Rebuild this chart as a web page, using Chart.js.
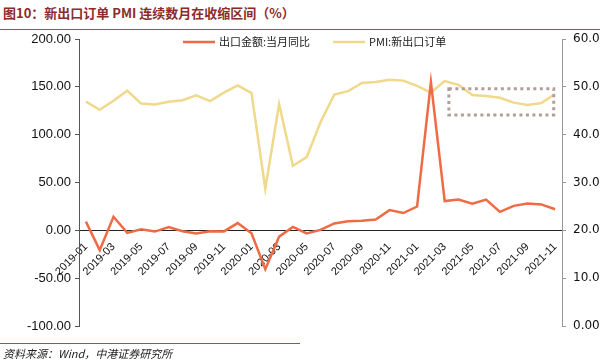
<!DOCTYPE html>
<html>
<head>
<meta charset="utf-8">
<script src="https://cdn.jsdelivr.net/npm/chart.js@4.4.1/dist/chart.umd.min.js"></script>
<style>
  body { margin: 0; background: #fff; }
  #wrap { position: relative; width: 600px; height: 363px; overflow: hidden; }
  #title { position: absolute; left: 3px; top: 3px; font: bold 13px "Noto Sans CJK SC", sans-serif; color: #8b2b2b; }
  #titleLine { position: absolute; left: 0; top: 29px; width: 600px; height: 0; border-top: 1px solid #a4503c; }
  #srcLine { position: absolute; left: 0; top: 343px; width: 300px; height: 0; border-top: 1px solid #a4503c; }
  #source { position: absolute; left: 3px; top: 345px; font: italic 11px "Noto Sans CJK SC", sans-serif; color: #222; }
  canvas { position: absolute; left: 0; top: 0; }
</style>
</head>
<body>
<div id="wrap">
  <div id="title">图10：新出口订单 PMI 连续数月在收缩区间（%）</div>
  <div id="titleLine"></div>
  <canvas id="myChart" width="600" height="363"></canvas>
  <div id="srcLine"></div>
  <div id="source">资料来源：Wind，中港证券研究所</div>
</div>
<script>
// monthly categories
const months = [
  "2019-01", "2019-02", "2019-03", "2019-04", "2019-05", "2019-06", "2019-07", "2019-08", "2019-09", "2019-10", "2019-11", "2019-12",
  "2020-01", "2020-02", "2020-03", "2020-04", "2020-05", "2020-06", "2020-07", "2020-08", "2020-09", "2020-10", "2020-11", "2020-12",
  "2021-01", "2021-02", "2021-03", "2021-04", "2021-05", "2021-06", "2021-07", "2021-08", "2021-09", "2021-10", "2021-11"
];
// 出口金额:当月同比 (left axis)
const exportYoY = [
  9.1, -20.7, 14.2, -2.7, 1.1, -1.3, 3.3, -1.0, -3.2, -0.9, -1.1, 7.6,
  -3.0, -40.6, -6.6, 3.5, -3.3, 0.5, 7.2, 9.5, 9.9, 11.4, 21.1, 18.1,
  24.9, 154.9, 30.6, 32.3, 27.9, 32.2, 19.3, 25.6, 28.1, 27.1, 22.0
];
// PMI:新出口订单 (right axis)
const pmiExport = [
  46.9, 45.2, 47.1, 49.2, 46.5, 46.3, 46.9, 47.2, 48.2, 47.0, 48.8, 50.3,
  48.7, 28.7, 46.4, 33.5, 35.3, 42.6, 48.4, 49.1, 50.8, 51.0, 51.5, 51.3,
  50.2, 48.8, 51.2, 50.4, 48.3, 48.1, 47.7, 46.7, 46.2, 46.6, 48.5
];
// highlight box, in category index / right-axis value units
const boxIndexRange = [26.3, 33.9];
const boxValueRange = [44.1, 49.6];

const orange = "#ee6b45";
const yellow = "#f0d98b";

// legend drawn inside the plot, plus the dotted box
const overlay = {
  id: "overlay",
  afterDatasetsDraw(chart) {
    const ctx = chart.ctx;
    const x = chart.scales.x, y1 = chart.scales.y1;
    const step = (x.getPixelForValue(1) - x.getPixelForValue(0));
    const x0 = x.getPixelForValue(0) + (boxIndexRange[0]) * step;
    const x1 = x.getPixelForValue(0) + (boxIndexRange[1]) * step;
    const yTop = y1.getPixelForValue(boxValueRange[1]);
    const yBot = y1.getPixelForValue(boxValueRange[0]);
    ctx.save();
    ctx.strokeStyle = "#b39d99";
    ctx.lineWidth = 3;
    ctx.setLineDash([3, 3.5]);
    ctx.strokeRect(x0, yTop, x1 - x0, yBot - yTop);
    ctx.restore();

    // legend
    const items = [
      { x: 183, ds: chart.data.datasets[0] },
      { x: 333, ds: chart.data.datasets[1] }
    ];
    ctx.save();
    ctx.font = '11px "Noto Sans CJK SC", sans-serif';
    ctx.textBaseline = "middle";
    items.forEach(it => {
      ctx.strokeStyle = it.ds.borderColor;
      ctx.lineWidth = 2.5;
      ctx.beginPath();
      ctx.moveTo(it.x, 42);
      ctx.lineTo(it.x + 32, 42);
      ctx.stroke();
      ctx.fillStyle = "#222";
      ctx.fillText(it.ds.label, it.x + 36, 42);
    });
    ctx.restore();
  }
};

const ctx = document.getElementById("myChart");
new Chart(ctx, {
  type: "line",
  data: {
    labels: months,
    datasets: [
      {
        label: "出口金额:当月同比",
        data: exportYoY,
        borderColor: orange,
        backgroundColor: orange,
        borderWidth: 2.5,
        pointRadius: 0,
        tension: 0,
        yAxisID: "y"
      },
      {
        label: "PMI:新出口订单",
        data: pmiExport,
        borderColor: yellow,
        backgroundColor: yellow,
        borderWidth: 2.5,
        pointRadius: 0,
        tension: 0,
        yAxisID: "y1"
      }
    ]
  },
  options: {
    responsive: false,
    animation: false,
    layout: { padding: { top: 39, bottom: 37, left: 0, right: 0 } },
    plugins: {
      legend: { display: false },
      tooltip: { enabled: false }
    },
    scales: {
      x: {
        position: { y: 0 },
        offset: true,
        afterFit: s => { s.height = 39; },
        grid: { display: false },
        border: { color: "#222", width: 1 },
        ticks: {
          autoSkip: false,
          maxRotation: 45,
          minRotation: 45,
          padding: 2,
          color: "#111",
          font: { family: "Liberation Sans", size: 11 },
          callback: function(val, index) {
            return index % 2 === 0 ? this.getLabelForValue(val) : "";
          }
        }
      },
      y: {
        position: "left",
        min: -100,
        max: 200,
        afterFit: s => { s.width = 79; },
        grid: { drawOnChartArea: false, tickLength: 4, color: "#555" },
        border: { color: "#555", width: 1 },
        ticks: {
          stepSize: 50,
          padding: 4,
          color: "#111",
          font: { family: "Liberation Sans", size: 13 },
          callback: v => v.toFixed(2)
        }
      },
      y1: {
        position: "right",
        min: 0,
        max: 60,
        afterFit: s => { s.width = 38; },
        grid: { drawOnChartArea: false, tickLength: 4, color: "#999" },
        border: { color: "#999", width: 1 },
        ticks: {
          stepSize: 10,
          padding: 7,
          color: "#111",
          font: { family: "DejaVu Sans", size: 12 },
          callback: v => v.toFixed(2)
        }
      }
    }
  },
  plugins: [overlay]
});
</script>
</body>
</html>
